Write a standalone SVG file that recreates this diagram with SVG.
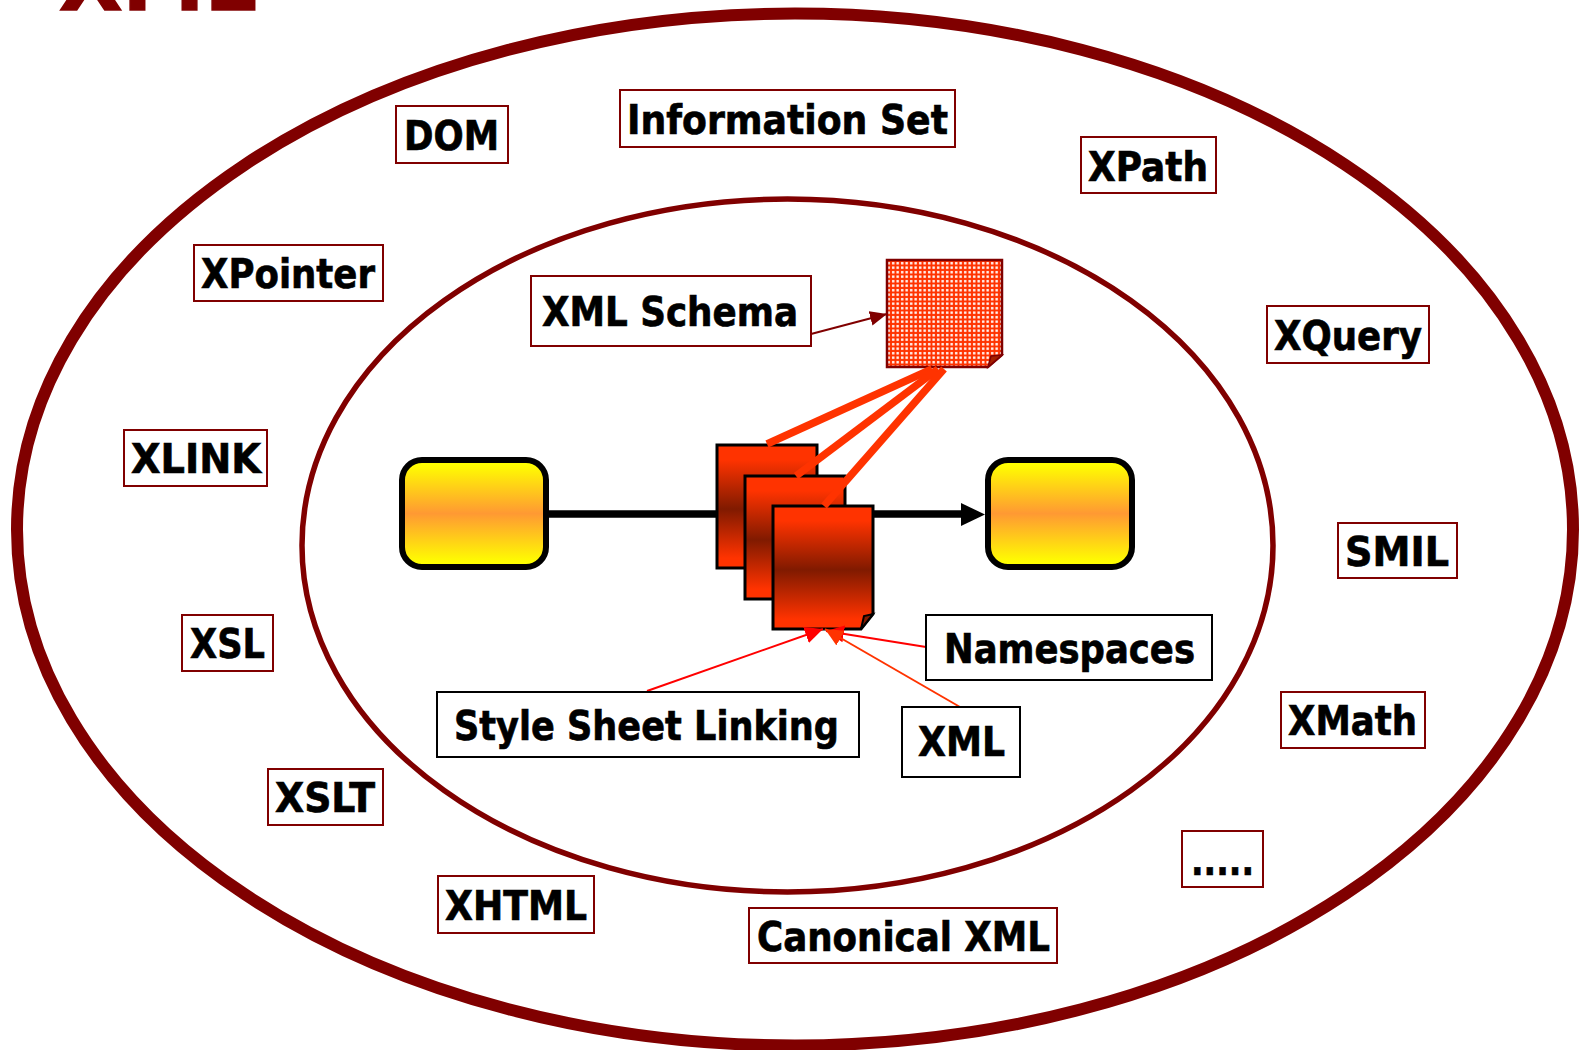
<svg xmlns="http://www.w3.org/2000/svg" width="1585" height="1050" viewBox="0 0 1585 1050">
<style>
.t{font-family:"DejaVu Sans","Liberation Sans",sans-serif;font-weight:700;font-size:41px;fill:#000;stroke:#000;stroke-width:.7}
.b{fill:#fff;stroke:#800000;stroke-width:2}
.k{fill:#fff;stroke:#000;stroke-width:2}
.ring{fill:none;stroke:#800000}
.doc{stroke:#000;stroke-width:3;fill:url(#docGrad)}
.fold{stroke:#000;stroke-width:2;fill:#801a00}
.feed{stroke:#ff3300;stroke-width:7.5;fill:none}
.term{fill:url(#termGrad);stroke:#000;stroke-width:6}
</style>
<defs>
<linearGradient id="termGrad" x1="0" y1="0" x2="0" y2="1"><stop offset="0" stop-color="#ffff00"/><stop offset=".04" stop-color="#ffff00"/><stop offset=".5" stop-color="#ff9933"/><stop offset=".96" stop-color="#ffff00"/><stop offset="1" stop-color="#ffff00"/></linearGradient>
<linearGradient id="docGrad" x1="0" y1="0" x2="0" y2="1"><stop offset="0" stop-color="#ff3300"/><stop offset=".12" stop-color="#ff3300"/><stop offset=".52" stop-color="#801a00"/><stop offset=".92" stop-color="#ff3300"/><stop offset="1" stop-color="#ff3300"/></linearGradient>
<pattern id="dots" width="4.5" height="4.5" patternUnits="userSpaceOnUse"><rect width="4.5" height="4.5" fill="#ff3300"/><rect x="1" y="1" width="2.4" height="2.4" fill="#fff"/></pattern>
<marker id="hDark" markerUnits="userSpaceOnUse" markerWidth="18" markerHeight="15" refX="17" refY="7.5" orient="auto"><path d="M0 0L17 7.5L0 15z" fill="#800000"/></marker>
<marker id="hRed" markerUnits="userSpaceOnUse" markerWidth="19" markerHeight="17" refX="18" refY="8.5" orient="auto"><path d="M0 0L18 8.5L0 17z" fill="#ff0000"/></marker>
<marker id="hOrange" markerUnits="userSpaceOnUse" markerWidth="19" markerHeight="17" refX="18" refY="8.5" orient="auto"><path d="M0 0L18 8.5L0 17z" fill="#ff3300"/></marker>
</defs>
<rect width="1585" height="1050" fill="#fff"/>
<g id="title"><text x="59" y="10" font-family="DejaVu Sans, sans-serif" font-weight="700" font-size="84" fill="#800000" stroke="#800000" stroke-width="1.5" textLength="198" lengthAdjust="spacingAndGlyphs">XML</text></g>
<g id="outer-ring"><ellipse class="ring" cx="795" cy="529.5" rx="778" ry="516" stroke-width="12"/></g>
<g id="inner-ring"><ellipse class="ring" cx="787.5" cy="545.5" rx="485.5" ry="346.5" stroke-width="5.5"/></g>
<g id="connectors">
<line x1="547" y1="514" x2="962" y2="514" stroke="#000" stroke-width="7.5"/>
<path d="M961 503L985 514.5L961 526z" fill="#000"/>
<line x1="811" y1="334" x2="887" y2="314" stroke="#800000" stroke-width="2" marker-end="url(#hDark)"/>
</g>
<g id="source"><rect class="term" x="402" y="460" width="144" height="107" rx="20"/></g>
<g id="target"><rect class="term" x="988" y="460" width="144" height="107" rx="20"/></g>
<g id="doc-1"><path class="doc" d="M717 445H817V568H717z"/></g>
<g id="doc-2"><path class="doc" d="M745 476H845V599H745z"/></g>
<g id="doc-3"><path class="doc" d="M773 506H873V614L861 629H773z"/><path class="fold" d="M861 629L864 616L873 614z"/></g>
<g id="schema-doc"><path d="M887 260H1002V355L988 367H887z" fill="url(#dots)" stroke="#800000" stroke-width="2.5"/><path d="M988 367L991 356L1002 355z" fill="#a52000" stroke="#800000" stroke-width="1.5"/></g>
<g id="feeds">
<line class="feed" x1="932" y1="369" x2="767" y2="444"/>
<line class="feed" x1="938" y1="369" x2="796" y2="476"/>
<line class="feed" x1="944" y1="369" x2="824" y2="506"/>
<line x1="647" y1="691" x2="823" y2="629" stroke="#ff0000" stroke-width="2" marker-end="url(#hRed)"/>
<line x1="926" y1="647" x2="826" y2="631" stroke="#ff0000" stroke-width="2" marker-end="url(#hRed)"/>
<line x1="960" y1="707" x2="825" y2="629" stroke="#ff3300" stroke-width="2" marker-end="url(#hOrange)"/>
</g>
<g id="n-dom"><rect class="b" x="396" y="106" width="112" height="57"/><text class="t" x="404" y="150" textLength="95" lengthAdjust="spacingAndGlyphs">DOM</text></g>
<g id="n-infoset"><rect class="b" x="620" y="90" width="335" height="57"/><text class="t" x="627" y="134" textLength="321" lengthAdjust="spacingAndGlyphs">Information Set</text></g>
<g id="n-xpath"><rect class="b" x="1081" y="137" width="135" height="56"/><text class="t" x="1088" y="181" textLength="120" lengthAdjust="spacingAndGlyphs">XPath</text></g>
<g id="n-xpointer"><rect class="b" x="194" y="245" width="189" height="56"/><text class="t" x="201" y="288" textLength="174" lengthAdjust="spacingAndGlyphs">XPointer</text></g>
<g id="n-xquery"><rect class="b" x="1267" y="306" width="162" height="57"/><text class="t" x="1274" y="350" textLength="148" lengthAdjust="spacingAndGlyphs">XQuery</text></g>
<g id="n-xlink"><rect class="b" x="124" y="430" width="143" height="56"/><text class="t" x="131" y="473" textLength="130" lengthAdjust="spacingAndGlyphs">XLINK</text></g>
<g id="n-smil"><rect class="b" x="1338" y="523" width="119" height="55"/><text class="t" x="1345" y="566" textLength="104" lengthAdjust="spacingAndGlyphs">SMIL</text></g>
<g id="n-xsl"><rect class="b" x="182" y="615" width="91" height="56"/><text class="t" x="190" y="658" textLength="75" lengthAdjust="spacingAndGlyphs">XSL</text></g>
<g id="n-xmath"><rect class="b" x="1281" y="692" width="144" height="56"/><text class="t" x="1288" y="735" textLength="129" lengthAdjust="spacingAndGlyphs">XMath</text></g>
<g id="n-xslt"><rect class="b" x="268" y="769" width="115" height="56"/><text class="t" x="275" y="812" textLength="100" lengthAdjust="spacingAndGlyphs">XSLT</text></g>
<g id="n-more"><rect class="b" x="1182" y="831" width="81" height="56"/><text class="t" x="1191" y="875" textLength="63" lengthAdjust="spacingAndGlyphs">.....</text></g>
<g id="n-xhtml"><rect class="b" x="438" y="876" width="156" height="57"/><text class="t" x="445" y="920" textLength="142" lengthAdjust="spacingAndGlyphs">XHTML</text></g>
<g id="n-canonical"><rect class="b" x="749" y="908" width="308" height="55"/><text class="t" x="757" y="951" textLength="293" lengthAdjust="spacingAndGlyphs">Canonical XML</text></g>
<g id="n-schema"><rect class="b" x="531" y="276" width="280" height="70"/><text class="t" x="542" y="326" textLength="256" lengthAdjust="spacingAndGlyphs">XML Schema</text></g>
<g id="n-namespaces"><rect class="k" x="926" y="615" width="286" height="65"/><text class="t" x="944" y="663" textLength="251" lengthAdjust="spacingAndGlyphs">Namespaces</text></g>
<g id="n-linking"><rect class="k" x="437" y="692" width="422" height="65"/><text class="t" x="454" y="740" textLength="385" lengthAdjust="spacingAndGlyphs">Style Sheet Linking</text></g>
<g id="n-xml"><rect class="k" x="902" y="707" width="118" height="70"/><text class="t" x="918" y="756" textLength="87" lengthAdjust="spacingAndGlyphs">XML</text></g>
</svg>
